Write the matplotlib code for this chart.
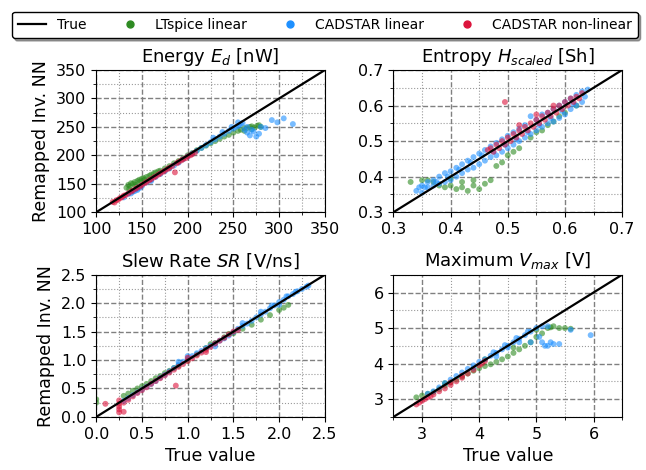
import numpy as np
import matplotlib
matplotlib.use("Agg")
import matplotlib.pyplot as plt
from matplotlib.ticker import AutoMinorLocator
from matplotlib.lines import Line2D

# ---- data (true value, remapped NN output) ----
# Energy E_d [nW]
lt_energy_x = [133, 135, 137, 138, 140, 142, 145, 147, 150, 152, 155, 158, 160, 163, 165, 168, 170, 175, 180, 185, 190,
               195, 200, 205, 210, 215, 220, 225, 230, 235, 240, 245, 250, 255, 258, 262, 265, 268, 270, 273, 276, 280,
               136, 143, 148, 153, 262, 270, 278]
lt_energy_y = [143, 148, 146, 151, 150, 153, 155, 157, 159, 160, 162, 164, 166, 168, 170, 172, 173, 177, 181, 186, 190,
               195, 200, 204, 209, 213, 217, 221, 225, 229, 233, 236, 240, 243, 245, 248, 248, 250, 251, 249, 252, 250,
               141, 148, 154, 157, 243, 246, 253]
cl_energy_x = [130, 135, 138, 140, 142, 145, 148, 150, 155, 160, 165, 170, 175, 180, 185, 190, 195, 200, 205, 210, 215,
               220, 225, 230, 235, 240, 245, 250, 253, 256, 258, 260, 262, 265, 265, 268, 270, 272, 275, 278, 280, 285,
               292, 298, 305, 315, 228, 238, 248, 255, 145, 160]
cl_energy_y = [126, 132, 133, 136, 137, 141, 143, 146, 152, 157, 162, 167, 172, 177, 182, 187, 193, 198, 203, 208, 213,
               218, 223, 228, 233, 238, 243, 247, 250, 252, 255, 257, 245, 250, 240, 235, 245, 242, 233, 238, 250, 248,
               262, 258, 265, 255, 231, 241, 250, 258, 139, 155]
cn_energy_x = [118, 120, 122, 124, 126, 128, 130, 132, 135, 138, 140, 143, 145, 148, 150, 153, 155, 158, 160, 163, 165,
               168, 170, 173, 175, 178, 180, 183, 186, 188, 190, 193, 195, 198, 200, 203, 205, 208]
cn_energy_y = [118, 117, 121, 122, 125, 126, 129, 130, 133, 136, 138, 141, 143, 145, 148, 151, 153, 156, 158, 161, 163,
               166, 168, 171, 173, 176, 178, 181, 170, 186, 188, 191, 193, 195, 198, 200, 202, 205]

# Entropy H_scaled [Sh]
lt_entropy_x = [0.33, 0.35, 0.36, 0.37, 0.38, 0.39, 0.40, 0.41, 0.42, 0.43, 0.44, 0.45, 0.46, 0.47, 0.40, 0.42, 0.44,
                0.48, 0.50, 0.52, 0.54, 0.56, 0.58, 0.60, 0.62, 0.55, 0.57, 0.59, 0.49, 0.51]
lt_entropy_y = [0.385, 0.39, 0.39, 0.385, 0.375, 0.37, 0.375, 0.365, 0.37, 0.36, 0.375, 0.365, 0.38, 0.39, 0.395, 0.385,
                0.39, 0.43, 0.46, 0.48, 0.51, 0.53, 0.555, 0.58, 0.60, 0.525, 0.545, 0.57, 0.44, 0.47]
cl_entropy_x = [0.34, 0.345, 0.35, 0.35, 0.36, 0.36, 0.37, 0.37, 0.38, 0.38, 0.39, 0.39, 0.40, 0.40, 0.41, 0.41, 0.42,
                0.42, 0.43, 0.43, 0.44, 0.44, 0.45, 0.45, 0.46, 0.46, 0.47, 0.47, 0.48, 0.48, 0.49, 0.49, 0.50, 0.50,
                0.51, 0.51, 0.52, 0.52, 0.53, 0.53, 0.54, 0.54, 0.55, 0.55, 0.56, 0.56, 0.57, 0.57, 0.58, 0.58, 0.59,
                0.59, 0.60, 0.60, 0.61, 0.61, 0.62, 0.62, 0.63, 0.63, 0.64, 0.635,
                0.355, 0.375, 0.395, 0.415, 0.435, 0.455, 0.475, 0.495, 0.515, 0.535, 0.555, 0.575, 0.595, 0.615]
cl_entropy_y = [0.36, 0.37, 0.355, 0.375, 0.37, 0.385, 0.375, 0.39, 0.38, 0.40, 0.385, 0.41, 0.39, 0.415, 0.40, 0.425,
                0.41, 0.435, 0.42, 0.445, 0.425, 0.455, 0.435, 0.465, 0.445, 0.475, 0.455, 0.485, 0.46, 0.495, 0.47,
                0.505, 0.48, 0.515, 0.49, 0.525, 0.50, 0.535, 0.51, 0.545, 0.52, 0.57, 0.53, 0.56, 0.54, 0.575, 0.55,
                0.58, 0.555, 0.59, 0.565, 0.60, 0.575, 0.61, 0.59, 0.62, 0.60, 0.63, 0.61, 0.64, 0.645, 0.625,
                0.37, 0.385, 0.40, 0.42, 0.44, 0.46, 0.47, 0.49, 0.505, 0.525, 0.545, 0.565, 0.585, 0.605]
cn_entropy_x = [0.465, 0.47, 0.475, 0.48, 0.485, 0.49, 0.495, 0.50, 0.505, 0.51, 0.515, 0.52, 0.525, 0.53, 0.535, 0.54,
                0.545, 0.55, 0.555, 0.56, 0.565, 0.57, 0.575, 0.58, 0.585, 0.59, 0.595, 0.60, 0.605, 0.61, 0.615, 0.62,
                0.625, 0.63, 0.495, 0.52, 0.55, 0.58]
cn_entropy_y = [0.475, 0.48, 0.47, 0.49, 0.48, 0.50, 0.49, 0.51, 0.50, 0.52, 0.51, 0.53, 0.52, 0.54, 0.53, 0.55, 0.54,
                0.56, 0.55, 0.57, 0.56, 0.58, 0.57, 0.59, 0.58, 0.60, 0.59, 0.61, 0.60, 0.62, 0.61, 0.625, 0.62, 0.635,
                0.61, 0.545, 0.575, 0.60]

# Slew Rate SR [V/ns]
lt_slew_x = [0.0, 0.0, 0.3, 0.35, 0.4, 0.45, 0.5, 0.55, 0.6, 0.65, 0.7, 0.75, 0.8, 0.85, 0.9, 1.0, 1.1, 1.2, 1.3, 1.4,
             1.5, 1.6, 1.7, 1.8, 1.9, 2.0, 2.05, 2.1, 1.25, 1.45]
lt_slew_y = [0.25, 0.31, 0.37, 0.41, 0.46, 0.5, 0.54, 0.58, 0.63, 0.68, 0.72, 0.77, 0.81, 0.86, 0.9, 0.99, 1.1, 1.21,
             1.3, 1.4, 1.47, 1.55, 1.62, 1.71, 1.79, 1.88, 1.92, 1.97, 1.28, 1.46]
cl_slew_x = [0.3, 0.35, 0.4, 0.45, 0.5, 0.55, 0.6, 0.65, 0.7, 0.75, 0.8, 0.85, 0.9, 0.95, 1.0, 1.05, 1.1, 1.15, 1.2,
             1.25, 1.3, 1.35, 1.4, 1.45, 1.5, 1.55, 1.6, 1.65, 1.7, 1.75, 1.8, 1.85, 1.9, 1.95, 2.0, 2.05, 2.1, 2.15,
             2.2, 2.25, 2.3, 2.32, 0.9, 1.0, 1.3, 1.6, 1.8, 2.0, 1.92, 2.08, 2.18]
cl_slew_y = [0.28, 0.33, 0.38, 0.43, 0.48, 0.53, 0.58, 0.63, 0.69, 0.74, 0.8, 0.86, 0.92, 0.97, 1.02, 1.07, 1.12, 1.16,
             1.21, 1.25, 1.29, 1.34, 1.38, 1.43, 1.49, 1.55, 1.6, 1.64, 1.69, 1.75, 1.8, 1.85, 1.91, 1.96, 2.02, 2.06,
             2.12, 2.16, 2.21, 2.25, 2.29, 2.31, 0.97, 1.07, 1.24, 1.65, 1.85, 1.97, 1.96, 2.12, 2.2]
cn_slew_x = [0.1, 0.25, 0.25, 0.25, 0.25, 0.25, 0.3, 0.3, 0.35, 0.4, 0.45, 0.5, 0.55, 0.6, 0.65, 0.7, 0.75, 0.8, 0.85,
             0.87, 0.9, 0.95, 1.0, 1.05, 1.1, 1.15, 1.2, 1.25, 1.3, 1.35, 1.4, 1.45, 1.5, 1.55, 1.0, 1.2]
cn_slew_y = [0.23, 0.08, 0.13, 0.18, 0.23, 0.29, 0.09, 0.25, 0.3, 0.36, 0.42, 0.47, 0.52, 0.58, 0.63, 0.68, 0.73, 0.78,
             0.83, 0.55, 0.88, 0.93, 0.98, 1.03, 1.08, 1.13, 1.18, 1.23, 1.29, 1.34, 1.39, 1.45, 1.5, 1.53, 1.04, 1.14]

# Maximum V_max [V]
lt_vmax_x = [2.9, 3.0, 3.1, 3.2, 3.3, 3.4, 3.5, 3.6, 3.7, 3.8, 3.9, 4.0, 4.1, 4.2, 4.3, 4.4, 4.5, 4.6, 4.7, 4.8, 4.9,
             5.0, 5.0, 5.1, 5.2, 5.3, 5.4, 5.5, 5.6, 5.25, 4.6, 4.1, 3.4]
lt_vmax_y = [3.05, 3.1, 3.15, 3.2, 3.28, 3.38, 3.47, 3.55, 3.63, 3.72, 3.8, 3.87, 3.93, 3.98, 4.05, 4.12, 4.2, 4.3,
             4.4, 4.5, 4.6, 4.75, 4.95, 4.85, 5.0, 5.05, 5.0, 5.0, 4.98, 5.02, 4.45, 4.12, 3.45]
cl_vmax_x = [3.1, 3.2, 3.3, 3.4, 3.5, 3.6, 3.7, 3.8, 3.9, 4.0, 4.1, 4.2, 4.3, 4.4, 4.5, 4.6, 4.7, 4.8, 4.9, 5.0, 5.1,
             5.2, 4.9, 5.05, 5.1, 5.15, 5.2, 5.25, 5.3, 5.4, 5.6, 5.95, 4.3, 4.5, 4.7, 3.9, 4.25, 4.45, 4.65, 4.85]
cl_vmax_y = [3.15, 3.22, 3.33, 3.45, 3.55, 3.65, 3.75, 3.85, 3.95, 4.05, 4.12, 4.22, 4.3, 4.4, 4.5, 4.6, 4.7, 4.8, 4.9,
             5.0, 5.05, 5.05, 4.6, 4.75, 4.6, 4.5, 4.5, 4.6, 4.55, 4.55, 4.95, 4.8, 4.2, 4.45, 4.6, 3.88, 4.32, 4.52,
             4.72, 4.9]
cn_vmax_x = [2.9, 2.95, 3.0, 3.05, 3.1, 3.15, 3.2, 3.3, 3.4, 3.5, 3.6, 3.7, 3.8, 3.9, 4.0, 4.05, 4.1, 3.5, 3.7]
cn_vmax_y = [2.85, 2.9, 2.95, 3.0, 3.05, 3.08, 3.13, 3.22, 3.3, 3.4, 3.5, 3.6, 3.72, 3.82, 3.95, 4.0, 4.07, 3.47, 3.66]

panels = [
    ("Energy $E_d$ [nW]", (100, 350), [100, 150, 200, 250, 300, 350],
     (lt_energy_x, lt_energy_y), (cl_energy_x, cl_energy_y), (cn_energy_x, cn_energy_y)),
    ("Entropy $H_{scaled}$ [Sh]", (0.3, 0.7), [0.3, 0.4, 0.5, 0.6, 0.7],
     (lt_entropy_x, lt_entropy_y), (cl_entropy_x, cl_entropy_y), (cn_entropy_x, cn_entropy_y)),
    ("Slew Rate $SR$ [V/ns]", (0.0, 2.5), [0.0, 0.5, 1.0, 1.5, 2.0, 2.5],
     (lt_slew_x, lt_slew_y), (cl_slew_x, cl_slew_y), (cn_slew_x, cn_slew_y)),
    ("Maximum $V_{max}$ [V]", (2.5, 6.5), [3, 4, 5, 6],
     (lt_vmax_x, lt_vmax_y), (cl_vmax_x, cl_vmax_y), (cn_vmax_x, cn_vmax_y)),
]

c_lt = "#2e8b22"
c_cl = "#1e90ff"
c_cn = "#dc143c"

plt.rcParams["font.size"] = 11.5

fig, axes = plt.subplots(2, 2, figsize=(6.46, 4.70), dpi=100)
fig.subplots_adjust(left=0.149, right=0.963, top=0.851, bottom=0.113, wspace=0.30, hspace=0.44)

for ax, (title, lim, ticks, lt, cl, cn) in zip(axes.flat, panels):
    ax.scatter(lt[0], lt[1], s=18, color=c_lt, alpha=0.6, edgecolors="none")
    ax.scatter(cl[0], cl[1], s=18, color=c_cl, alpha=0.6, edgecolors="none")
    ax.scatter(cn[0], cn[1], s=18, color=c_cn, alpha=0.6, edgecolors="none")
    ax.plot(lim, lim, color="black", lw=1.6, zorder=5)
    ax.set_xlim(lim)
    ax.set_ylim(lim)
    ax.set_title(title, fontsize=13)
    ax.set_xticks(ticks)
    ax.set_yticks(ticks)
    ax.xaxis.set_minor_locator(AutoMinorLocator(2))
    ax.yaxis.set_minor_locator(AutoMinorLocator(2))
    ax.grid(which="major", linestyle="--", color="grey", lw=1)
    ax.grid(which="minor", linestyle=":", color="grey", lw=0.8, alpha=0.8)
    ax.set_axisbelow(True)

axes[0, 0].set_ylabel("Remapped Inv. NN", fontsize=12.5)
axes[1, 0].set_ylabel("Remapped Inv. NN", fontsize=12.5)
axes[1, 0].set_xlabel("True value", fontsize=12.5)
axes[1, 1].set_xlabel("True value", fontsize=12.5)

handles = [
    Line2D([], [], color="black", lw=1.6, label="True"),
    Line2D([], [], marker="o", ls="", color=c_lt, markersize=5, label="LTspice linear"),
    Line2D([], [], marker="o", ls="", color=c_cl, markersize=5, label="CADSTAR linear"),
    Line2D([], [], marker="o", ls="", color=c_cn, markersize=5, label="CADSTAR non-linear"),
]
fig.legend(handles=handles, loc="upper center", bbox_to_anchor=(0.503, 0.99), ncol=4, shadow=True,
           edgecolor="black", framealpha=1, fontsize=10, columnspacing=2.1, borderpad=0.45)

fig.savefig("out.png", dpi=100)
